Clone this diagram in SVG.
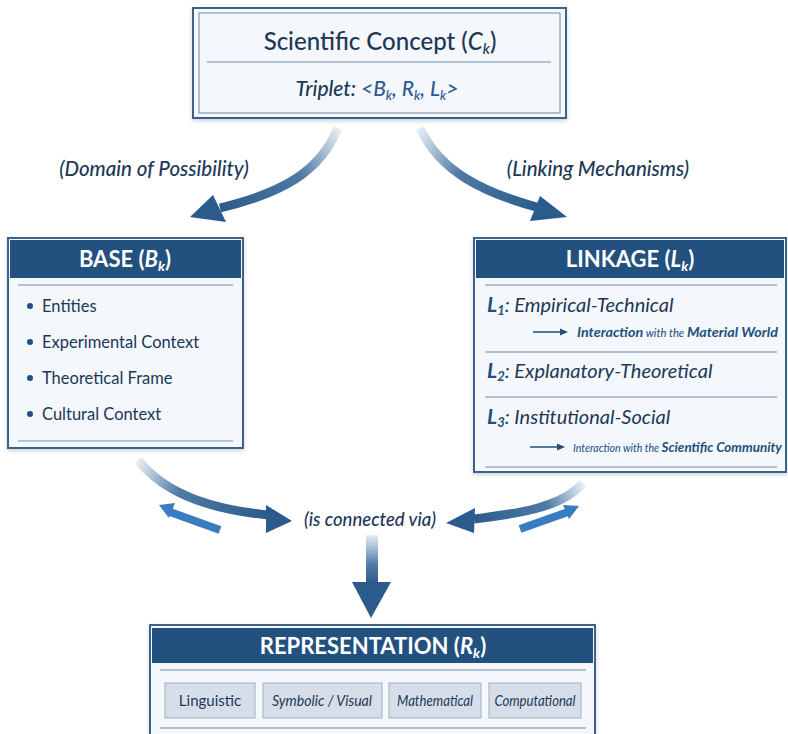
<svg xmlns="http://www.w3.org/2000/svg" width="788" height="734" viewBox="0 0 788 734">
<style>
text{font-family:Lato,"Open Sans","DejaVu Sans",sans-serif;fill:#1d3857}
.box{fill:#f4f7fb;stroke:#3d6289;stroke-width:2}
.inner{fill:none;stroke:#6b88a8;stroke-width:1}
.band{fill:#22507f}
.sep{stroke:#9fb2c6;stroke-width:1.5}
.hd{fill:#ffffff;font-weight:700;font-size:22px}
.it{font-style:italic}
.blue{fill:#2b5c92}
.item{font-size:16.5px}
.lk{font-size:20px;font-style:italic}
.sub{font-size:14px;font-style:italic;font-weight:700;fill:#22507f}
.small{font-size:11px;font-style:italic;fill:#22507f}
.lbl{font-size:20.5px;font-style:italic;font-weight:500}
.chip{fill:#d6dfe9;stroke:#9fb0c2;stroke-width:1}
.ct{font-size:15px;text-anchor:middle}
.arr{fill:none;stroke-width:9}
.head{fill:#2a5b8c}
.bright{fill:#3a7cc4}
</style>
<defs>
<linearGradient id="gTL" gradientUnits="userSpaceOnUse" x1="338" y1="128" x2="220" y2="208"><stop offset="0" stop-color="#e8eef5"/><stop offset="0.4" stop-color="#4f7aa5"/><stop offset="1" stop-color="#2a5b8c"/></linearGradient>
<linearGradient id="gTR" gradientUnits="userSpaceOnUse" x1="420" y1="128" x2="540" y2="208"><stop offset="0" stop-color="#e8eef5"/><stop offset="0.4" stop-color="#4f7aa5"/><stop offset="1" stop-color="#2a5b8c"/></linearGradient>
<linearGradient id="gBL" gradientUnits="userSpaceOnUse" x1="138" y1="460" x2="270" y2="515"><stop offset="0" stop-color="#e8eef5"/><stop offset="0.35" stop-color="#4f7aa5"/><stop offset="1" stop-color="#2a5b8c"/></linearGradient>
<linearGradient id="gBR" gradientUnits="userSpaceOnUse" x1="583" y1="483" x2="470" y2="518"><stop offset="0" stop-color="#e8eef5"/><stop offset="0.35" stop-color="#4f7aa5"/><stop offset="1" stop-color="#2a5b8c"/></linearGradient>
<linearGradient id="gDN" gradientUnits="userSpaceOnUse" x1="0" y1="535" x2="0" y2="585"><stop offset="0" stop-color="#e8eef5"/><stop offset="0.6" stop-color="#4f7aa5"/><stop offset="1" stop-color="#2a5b8c"/></linearGradient>
<filter id="sh" x="-5%" y="-5%" width="110%" height="115%"><feDropShadow dx="0" dy="2" stdDeviation="2" flood-color="#6b7f95" flood-opacity="0.35"/></filter>
</defs>

<g id="connectors">
  <path class="arr" stroke="url(#gTL)" d="M338,128 C320,172 282,193 220,208"/>
  <polygon class="head" points="190,217 213,195 226,222"/>
  <path class="arr" stroke="url(#gTR)" d="M420,128 C440,172 484,193 540,208"/>
  <polygon class="head" points="567,217 540,196 530,221"/>
  <path class="arr" stroke="url(#gBL)" d="M138,460 C168,498 220,510 268,515"/>
  <polygon class="head" points="292,521 266,505 266,533"/>
  <path class="arr" stroke="url(#gBR)" d="M583,483 C562,508 515,514 474,519"/>
  <polygon class="head" points="446,523 475,508 474,533"/>
  <path d="M220,530 L170,512" stroke="#3a7cc4" stroke-width="8" fill="none"/>
  <polygon class="bright" points="159,505 175,503 169,518"/>
  <path d="M520,529 L568,512" stroke="#3a7cc4" stroke-width="8" fill="none"/>
  <polygon class="bright" points="579,506 563,505 569,519"/>
  <rect x="366" y="535" width="12" height="50" fill="url(#gDN)"/>
  <polygon class="head" points="352,582 391,582 371,618"/>
  <text class="lbl" x="154" y="176" text-anchor="middle">(Domain of Possibility)</text>
  <text class="lbl" x="598" y="176" text-anchor="middle">(Linking Mechanisms)</text>
  <text class="lbl" x="370" y="526" text-anchor="middle" style="font-size:18.5px">(is connected via)</text>
</g>

<g id="concept">
  <rect class="box" x="193" y="8" width="373" height="110" filter="url(#sh)"/>
  <rect class="inner" x="199" y="13" width="361" height="100"/>
  <line class="sep" x1="207" y1="62" x2="551" y2="62" stroke="#3d6289"/>
  <text x="380" y="50" text-anchor="middle" font-size="24" font-weight="500">Scientific Concept (<tspan class="it">C</tspan><tspan class="it" font-size="15" dy="4">k</tspan><tspan dy="-4">)</tspan></text>
  <text x="377" y="96" text-anchor="middle" font-size="21" class="it" font-weight="500">Triplet: <tspan class="blue">&lt;B<tspan font-size="13" dy="4">k</tspan><tspan dy="-4">, R</tspan><tspan font-size="13" dy="4">k</tspan><tspan dy="-4">, L</tspan><tspan font-size="13" dy="4">k</tspan><tspan dy="-4">&gt;</tspan></tspan></text>
</g>

<g id="base">
  <rect class="box" x="8" y="238" width="235" height="210" filter="url(#sh)"/>
  <rect class="band" x="10" y="240" width="231" height="38"/>
  <text class="hd" x="125" y="267" text-anchor="middle">BASE (<tspan class="it">B</tspan><tspan class="it" font-size="14" dy="4">k</tspan><tspan dy="-4">)</tspan></text>
  <line class="sep" x1="18" y1="285" x2="233" y2="285"/>
  <circle cx="30" cy="306" r="3" fill="#22507f"/>
  <text class="item" x="42" y="312">Entities</text>
  <circle cx="30" cy="342" r="3" fill="#22507f"/>
  <text class="item" x="42" y="348">Experimental Context</text>
  <circle cx="30" cy="378" r="3" fill="#22507f"/>
  <text class="item" x="42" y="384">Theoretical Frame</text>
  <circle cx="30" cy="414" r="3" fill="#22507f"/>
  <text class="item" x="42" y="420">Cultural Context</text>
  <line class="sep" x1="18" y1="441" x2="233" y2="441"/>
</g>

<g id="linkage">
  <rect class="box" x="474" y="238" width="312" height="234" filter="url(#sh)"/>
  <rect class="band" x="476" y="240" width="308" height="38"/>
  <text class="hd" x="630" y="267" text-anchor="middle">LINKAGE (<tspan class="it">L</tspan><tspan class="it" font-size="14" dy="4">k</tspan><tspan dy="-4">)</tspan></text>
  <line class="sep" x1="485" y1="285" x2="777" y2="285"/>
  <text class="lk" x="487" y="312"><tspan font-weight="700" fill="#22507f" font-size="21">L</tspan><tspan font-size="13" dy="3" font-weight="700" fill="#22507f">1</tspan><tspan dy="-3">: Empirical-Technical</tspan></text>
  <line x1="533" y1="332" x2="562" y2="332" stroke="#22507f" stroke-width="1.5"/>
  <polygon points="568,332 560,328.5 560,335.5" fill="#22507f"/>
  <text x="577" y="337" textLength="201" lengthAdjust="spacingAndGlyphs"><tspan class="sub">Interaction</tspan><tspan class="small"> with the </tspan><tspan class="sub">Material World</tspan></text>
  <line class="sep" x1="485" y1="352" x2="777" y2="352"/>
  <text class="lk" x="487" y="378"><tspan font-weight="700" fill="#22507f" font-size="21">L</tspan><tspan font-size="13" dy="3" font-weight="700" fill="#22507f">2</tspan><tspan dy="-3">: Explanatory-Theoretical</tspan></text>
  <line class="sep" x1="485" y1="397" x2="777" y2="397"/>
  <text class="lk" x="487" y="424"><tspan font-weight="700" fill="#22507f" font-size="21">L</tspan><tspan font-size="13" dy="3" font-weight="700" fill="#22507f">3</tspan><tspan dy="-3">: Institutional-Social</tspan></text>
  <line x1="530" y1="447" x2="559" y2="447" stroke="#22507f" stroke-width="1.5"/>
  <polygon points="565,447 557,443.5 557,450.5" fill="#22507f"/>
  <text x="573" y="452" textLength="209" lengthAdjust="spacingAndGlyphs"><tspan class="small" font-size="12">Interaction with the </tspan><tspan class="sub">Scientific Community</tspan></text>
  <line class="sep" x1="485" y1="467" x2="777" y2="467"/>
</g>

<g id="representation">
  <rect class="box" x="150" y="625" width="445" height="120" filter="url(#sh)"/>
  <rect class="band" x="152" y="628" width="441" height="35"/>
  <text class="hd" x="373" y="654" text-anchor="middle" font-size="21">REPRESENTATION (<tspan class="it">R</tspan><tspan class="it" font-size="14" dy="4">k</tspan><tspan dy="-4">)</tspan></text>
  <line class="sep" x1="160" y1="670" x2="586" y2="670"/>
  <rect class="chip" x="165" y="683" width="90" height="35"/>
  <text class="ct" x="210" y="706">Linguistic</text>
  <rect class="chip" x="263" y="683" width="119" height="35"/>
  <text class="ct it" x="322" y="706" font-size="15" textLength="100" lengthAdjust="spacingAndGlyphs">Symbolic / Visual</text>
  <rect class="chip" x="389" y="683" width="92" height="35"/>
  <text class="ct it" x="435" y="706" font-size="15" textLength="76" lengthAdjust="spacingAndGlyphs">Mathematical</text>
  <rect class="chip" x="489" y="683" width="92" height="35"/>
  <text class="ct it" x="535" y="706" font-size="15" textLength="81" lengthAdjust="spacingAndGlyphs">Computational</text>
  <line class="sep" x1="160" y1="728" x2="586" y2="728"/>
</g>
</svg>
